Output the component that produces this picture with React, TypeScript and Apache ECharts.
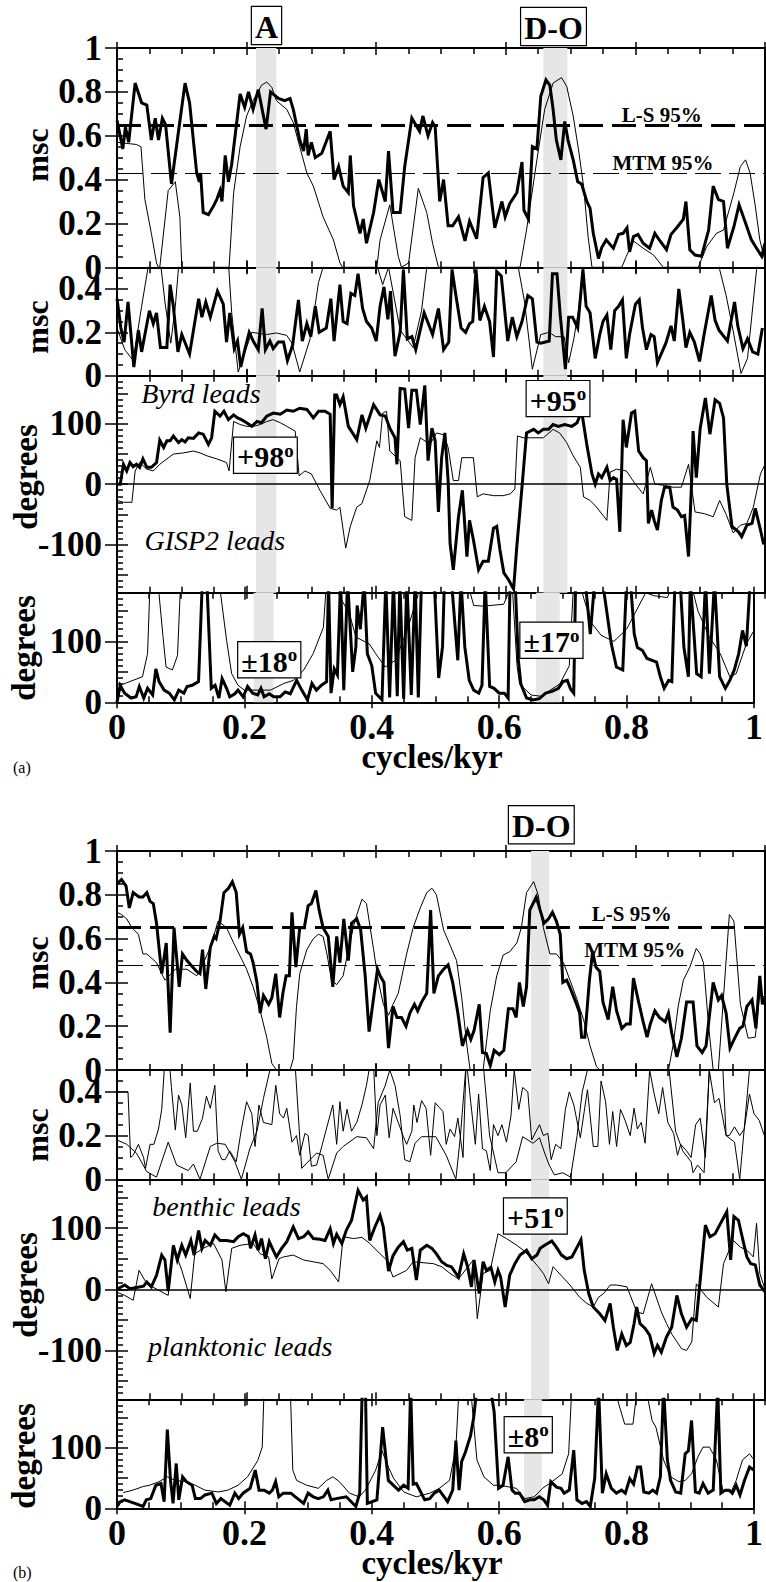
import React, { useEffect, useRef } from "react";
import * as echarts from "echarts";

type Pt = [number, number];

const FONT = "Liberation Serif, Times New Roman, DejaVu Serif, serif";

// ---------- (a) Byrd / GISP2 ----------
const A_MSC_LS: Pt[] = [[0,0.67],[0.009,0.54],[0.013,0.64],[0.018,0.57],[0.028,0.84],[0.038,0.75],[0.046,0.74],[0.053,0.58],[0.059,0.68],[0.064,0.58],[0.07,0.68],[0.075,0.65],[0.084,0.38],[0.094,0.6],[0.105,0.84],[0.112,0.75],[0.123,0.43],[0.127,0.39],[0.129,0.43],[0.133,0.25],[0.141,0.24],[0.149,0.28],[0.154,0.31],[0.159,0.35],[0.162,0.3],[0.167,0.51],[0.172,0.39],[0.177,0.47],[0.19,0.79],[0.197,0.73],[0.203,0.8],[0.21,0.72],[0.218,0.81],[0.224,0.72],[0.23,0.63],[0.237,0.8],[0.249,0.77],[0.259,0.76],[0.267,0.77],[0.272,0.72],[0.277,0.65],[0.282,0.58],[0.288,0.53],[0.292,0.63],[0.295,0.51],[0.3,0.57],[0.306,0.5],[0.316,0.52],[0.329,0.62],[0.335,0.4],[0.342,0.46],[0.349,0.37],[0.357,0.34],[0.36,0.51],[0.365,0.28],[0.375,0.155],[0.38,0.22],[0.385,0.11],[0.396,0.25],[0.404,0.4],[0.414,0.3],[0.419,0.53],[0.426,0.25],[0.437,0.25],[0.444,0.46],[0.455,0.68],[0.467,0.62],[0.472,0.69],[0.48,0.6],[0.487,0.66],[0.491,0.64],[0.498,0.3],[0.504,0.4],[0.511,0.19],[0.518,0.19],[0.527,0.23],[0.537,0.12],[0.544,0.21],[0.555,0.13],[0.565,0.41],[0.573,0.43],[0.583,0.18],[0.594,0.3],[0.599,0.23],[0.606,0.29],[0.617,0.34],[0.625,0.48],[0.628,0.26],[0.635,0.22],[0.641,0.55],[0.648,0.54],[0.654,0.78],[0.662,0.855],[0.668,0.83],[0.673,0.72],[0.678,0.58],[0.685,0.49],[0.691,0.665],[0.696,0.58],[0.704,0.49],[0.711,0.39],[0.717,0.38],[0.725,0.3],[0.73,0.27],[0.735,0.155],[0.743,0.04],[0.748,0.09],[0.755,0.125],[0.762,0.1],[0.766,0.087],[0.774,0.15],[0.781,0.155],[0.787,0.18],[0.791,0.07],[0.797,0.14],[0.804,0.15],[0.812,0.11],[0.822,0.087],[0.83,0.155],[0.838,0.12],[0.848,0.08],[0.855,0.15],[0.865,0.185],[0.874,0.22],[0.878,0.3],[0.884,0.08],[0.892,0.056],[0.902,0.05],[0.913,0.17],[0.92,0.37],[0.928,0.31],[0.936,0.3],[0.942,0.087],[0.952,0.185],[0.96,0.285],[0.969,0.21],[0.979,0.125],[0.987,0.087],[0.995,0.05],[1,0.11]];
const A_MSC_MTM: Pt[] = [[0,0.57],[0.03,0.56],[0.037,0.55],[0.043,0.31],[0.053,0.155],[0.061,0.02],[0.064,0],[0.066,0],[0.079,0.35],[0.09,0.39],[0.097,0.23],[0.1,0],[0.173,0],[0.18,0.34],[0.19,0.55],[0.2,0.69],[0.21,0.76],[0.223,0.83],[0.231,0.845],[0.239,0.82],[0.246,0.76],[0.262,0.72],[0.272,0.66],[0.282,0.55],[0.293,0.43],[0.303,0.37],[0.318,0.23],[0.334,0.125],[0.344,0.02],[0.348,0],[0.401,0],[0.406,0.125],[0.421,0.285],[0.434,0.05],[0.439,0],[0.45,0.02],[0.465,0.36],[0.478,0.25],[0.487,0.11],[0.496,0],[0.622,0],[0.632,0.17],[0.648,0.49],[0.66,0.72],[0.673,0.84],[0.686,0.865],[0.694,0.825],[0.704,0.69],[0.712,0.54],[0.72,0.37],[0.727,0.14],[0.733,0],[0.779,0],[0.786,0.05],[0.797,0.12],[0.812,0.087],[0.828,0.056],[0.843,0],[0.897,0],[0.91,0.094],[0.925,0.155],[0.936,0.17],[0.952,0.34],[0.962,0.46],[0.97,0.49],[0.977,0.43],[0.985,0.28],[0.992,0.125],[1,0.03]];
const A_MSC2_LS: Pt[] = [[0,0.355],[0.006,0.22],[0.011,0.155],[0.017,0.34],[0.026,0.04],[0.033,0.21],[0.038,0.11],[0.05,0.3],[0.056,0.24],[0.061,0.29],[0.067,0.13],[0.077,0.13],[0.082,0.42],[0.087,0.32],[0.094,0.11],[0.1,0.19],[0.112,0.1],[0.126,0.355],[0.131,0.27],[0.137,0.34],[0.144,0.27],[0.155,0.39],[0.164,0.33],[0.169,0.155],[0.174,0.29],[0.181,0.125],[0.186,0.16],[0.191,0.04],[0.198,0.13],[0.204,0.2],[0.211,0.155],[0.218,0.12],[0.224,0.31],[0.229,0.12],[0.236,0.16],[0.241,0.125],[0.249,0.155],[0.257,0.155],[0.263,0.07],[0.271,0.14],[0.28,0.35],[0.286,0.16],[0.293,0.24],[0.299,0.18],[0.306,0.32],[0.312,0.2],[0.323,0.22],[0.33,0.355],[0.335,0.16],[0.344,0.42],[0.349,0.25],[0.355,0.24],[0.361,0.38],[0.367,0.37],[0.372,0.47],[0.379,0.31],[0.385,0.25],[0.393,0.22],[0.4,0.16],[0.406,0.32],[0.412,0.41],[0.418,0.26],[0.422,0.39],[0.429,0.09],[0.437,0.2],[0.442,0.49],[0.448,0.17],[0.455,0.18],[0.461,0.12],[0.474,0.29],[0.487,0.19],[0.496,0.31],[0.504,0.12],[0.512,0.155],[0.517,0.49],[0.523,0.37],[0.531,0.22],[0.538,0.2],[0.544,0.24],[0.549,0.25],[0.554,0.49],[0.56,0.255],[0.567,0.32],[0.575,0.25],[0.581,0.086],[0.586,0.48],[0.593,0.46],[0.603,0.16],[0.61,0.27],[0.617,0.18],[0.625,0.25],[0.634,0.37],[0.641,0.355],[0.648,0.155],[0.654,0.15],[0.667,0.16],[0.672,0.47],[0.679,0.47],[0.684,0.28],[0.692,0.03],[0.697,0.27],[0.703,0.27],[0.711,0.22],[0.719,0.49],[0.724,0.32],[0.73,0.29],[0.738,0.08],[0.745,0.19],[0.75,0.25],[0.756,0.28],[0.762,0.12],[0.768,0.3],[0.774,0.32],[0.78,0.35],[0.786,0.08],[0.791,0.19],[0.8,0.33],[0.806,0.35],[0.811,0.22],[0.817,0.12],[0.824,0.19],[0.829,0.18],[0.834,0.06],[0.847,0.15],[0.855,0.23],[0.86,0.16],[0.867,0.4],[0.873,0.26],[0.878,0.13],[0.884,0.2],[0.891,0.155],[0.899,0.066],[0.906,0.19],[0.917,0.37],[0.923,0.255],[0.929,0.21],[0.942,0.16],[0.953,0.34],[0.958,0.23],[0.966,0.125],[0.973,0.17],[0.981,0.11],[0.989,0.1],[0.996,0.22]];
const A_MSC2_MTM: Pt[] = [[0,0.22],[0.012,0.12],[0.025,0.07],[0.038,0.32],[0.048,0.5],[0.055,0.7],[0.062,0.7],[0.066,0.55],[0.074,0.34],[0.083,0.15],[0.09,0.32],[0.095,0.5],[0.1,0.7],[0.165,0.7],[0.172,0.52],[0.177,0.29],[0.187,0.017],[0.208,0.2],[0.231,0.19],[0.246,0.197],[0.262,0.186],[0.27,0.15],[0.282,0.017],[0.298,0.17],[0.311,0.43],[0.318,0.5],[0.33,0.7],[0.39,0.7],[0.401,0.51],[0.41,0.42],[0.419,0.5],[0.437,0.21],[0.457,0.13],[0.47,0.3],[0.478,0.5],[0.49,0.7],[0.61,0.7],[0.618,0.52],[0.629,0.34],[0.641,0.03],[0.654,0.19],[0.667,0.2],[0.677,0.18],[0.69,0.18],[0.697,0.06],[0.705,0.17],[0.712,0.3],[0.72,0.49],[0.73,0.7],[0.92,0.7],[0.93,0.49],[0.94,0.37],[0.95,0.22],[0.963,0.01],[0.973,0.08],[0.987,0.49],[1,0.7]];
const A_PHASE_LS: Pt[] = [[0,0],[0.005,0],[0.01,33],[0.015,22],[0.02,36],[0.025,29],[0.03,33],[0.035,28],[0.04,42],[0.046,28],[0.053,28],[0.061,36],[0.066,73],[0.072,61],[0.077,72],[0.082,72],[0.087,80],[0.095,69],[0.1,74],[0.105,70],[0.11,77],[0.118,76],[0.126,85],[0.133,83],[0.141,66],[0.146,77],[0.151,121],[0.159,113],[0.165,121],[0.172,107],[0.18,115],[0.186,110],[0.192,107],[0.2,102],[0.208,96],[0.216,104],[0.223,102],[0.231,113],[0.241,118],[0.252,116],[0.262,123],[0.272,121],[0.282,126],[0.293,124],[0.303,110],[0.311,121],[0.321,121],[0.329,116],[0.332,-40],[0.336,148],[0.339,148],[0.344,132],[0.349,145],[0.357,96],[0.37,74],[0.378,115],[0.384,93],[0.396,132],[0.406,115],[0.414,113],[0.421,93],[0.429,77],[0.432,33],[0.437,159],[0.444,158],[0.45,93],[0.455,156],[0.462,156],[0.468,99],[0.475,164],[0.48,39],[0.486,93],[0.491,72],[0.496,-46],[0.501,44],[0.506,85],[0.511,6],[0.514,-98],[0.519,-142],[0.527,-54],[0.533,-10],[0.54,-120],[0.544,-60],[0.55,-92],[0.558,-142],[0.565,-128],[0.573,-128],[0.581,-73],[0.586,-70],[0.591,-109],[0.597,-147],[0.604,-158],[0.612,-174],[0.617,-103],[0.625,-5],[0.632,85],[0.643,91],[0.65,85],[0.658,91],[0.666,91],[0.673,99],[0.681,96],[0.691,99],[0.702,96],[0.71,102],[0.717,121],[0.725,66],[0.733,17],[0.738,0],[0.743,17],[0.748,11],[0.756,28],[0.761,6],[0.766,11],[0.771,8],[0.776,-79],[0.781,107],[0.786,61],[0.794,118],[0.799,121],[0.805,55],[0.812,44],[0.817,39],[0.82,-65],[0.825,-43],[0.829,-60],[0.834,-76],[0.84,-27],[0.845,-5],[0.853,-5],[0.858,-38],[0.865,-43],[0.871,-54],[0.876,-52],[0.882,-120],[0.887,11],[0.889,88],[0.894,11],[0.9,93],[0.908,143],[0.915,83],[0.923,140],[0.93,134],[0.936,110],[0.941,0],[0.949,-70],[0.959,-79],[0.964,-87],[0.972,-68],[0.98,-65],[0.985,-40],[0.993,-76],[0.998,-100]];
const A_PHASE_MTM: Pt[] = [[0,-27],[0.01,-30],[0.023,-30],[0.028,22],[0.035,36],[0.046,25],[0.056,22],[0.066,33],[0.077,42],[0.087,50],[0.103,52],[0.118,55],[0.128,52],[0.139,47],[0.154,42],[0.169,36],[0.173,22],[0.18,104],[0.19,99],[0.2,96],[0.211,96],[0.221,99],[0.231,104],[0.241,107],[0.252,102],[0.262,96],[0.275,88],[0.281,14],[0.29,22],[0.3,17],[0.313,-10],[0.329,-40],[0.339,-43],[0.344,-38],[0.353,-106],[0.36,-70],[0.37,-38],[0.378,-32],[0.39,6],[0.401,72],[0.405,61],[0.41,118],[0.416,121],[0.421,55],[0.437,39],[0.444,-54],[0.455,-60],[0.46,44],[0.468,77],[0.483,66],[0.493,85],[0.504,82],[0.511,61],[0.519,6],[0.527,6],[0.532,44],[0.55,44],[0.556,-21],[0.565,-16],[0.581,-19],[0.596,-19],[0.607,-16],[0.614,-8],[0.618,80],[0.627,77],[0.658,77],[0.673,91],[0.683,85],[0.694,69],[0.704,47],[0.715,28],[0.72,-21],[0.73,-27],[0.74,-38],[0.756,-60],[0.761,20],[0.771,25],[0.786,22],[0.8,0],[0.812,-16],[0.823,28],[0.83,0],[0.845,-2],[0.858,-5],[0.871,-5],[0.882,33],[0.892,-46],[0.907,-49],[0.92,-54],[0.93,-27],[0.94,-50],[0.951,-81],[0.962,-68],[0.972,-65],[0.982,-38],[0.993,17],[1,33]];
const A_ERR_LS: Pt[] = [[0,0],[0.005,28],[0.012,15],[0.022,7],[0.03,9],[0.035,26],[0.042,7],[0.048,23],[0.056,12],[0.061,55],[0.066,34],[0.074,20],[0.082,15],[0.09,4],[0.097,20],[0.105,15],[0.11,26],[0.118,28],[0.128,34],[0.134,200],[0.141,200],[0.148,23],[0.154,28],[0.16,7],[0.165,39],[0.172,23],[0.177,9],[0.185,14],[0.19,20],[0.198,9],[0.205,26],[0.213,15],[0.221,12],[0.226,23],[0.231,9],[0.239,14],[0.246,9],[0.256,9],[0.264,17],[0.272,14],[0.282,36],[0.29,20],[0.299,4],[0.306,31],[0.313,20],[0.321,28],[0.329,34],[0.332,200],[0.336,15],[0.341,55],[0.346,45],[0.351,200],[0.356,20],[0.362,200],[0.37,50],[0.375,91],[0.377,159],[0.382,120],[0.388,200],[0.393,80],[0.4,60],[0.406,15],[0.416,4],[0.422,200],[0.428,8],[0.434,200],[0.44,10],[0.444,200],[0.45,6],[0.455,200],[0.462,12],[0.468,200],[0.473,8],[0.478,200],[0.498,200],[0.505,40],[0.511,91],[0.514,200],[0.525,200],[0.535,69],[0.54,200],[0.546,91],[0.553,36],[0.56,20],[0.568,15],[0.573,28],[0.578,200],[0.585,26],[0.592,23],[0.6,15],[0.608,15],[0.614,7],[0.617,200],[0.625,200],[0.63,70],[0.634,30],[0.643,7],[0.653,4],[0.663,6],[0.673,15],[0.683,18],[0.693,23],[0.7,34],[0.707,36],[0.712,22],[0.717,15],[0.72,200],[0.735,200],[0.743,112],[0.75,200],[0.762,200],[0.776,96],[0.784,58],[0.794,53],[0.8,200],[0.806,200],[0.812,112],[0.817,90],[0.825,85],[0.832,72],[0.84,69],[0.847,66],[0.853,42],[0.859,23],[0.866,36],[0.871,34],[0.876,200],[0.884,200],[0.89,90],[0.897,42],[0.9,200],[0.91,47],[0.917,42],[0.924,200],[0.93,47],[0.938,200],[0.946,42],[0.955,23],[0.962,36],[0.969,53],[0.976,80],[0.982,118],[0.988,92],[0.994,200],[1,200]];
const A_ERR_MTM: Pt[] = [[0.005,28],[0.025,36],[0.04,42],[0.048,80],[0.052,200],[0.064,200],[0.072,110],[0.077,58],[0.087,53],[0.095,77],[0.1,200],[0.16,200],[0.172,102],[0.18,47],[0.19,28],[0.2,20],[0.22,20],[0.241,20],[0.262,31],[0.277,36],[0.293,53],[0.308,80],[0.324,123],[0.329,200],[0.345,200],[0.349,175],[0.365,145],[0.375,107],[0.396,96],[0.406,80],[0.421,58],[0.437,69],[0.457,123],[0.473,178],[0.48,200],[0.55,200],[0.555,178],[0.56,159],[0.575,158],[0.607,161],[0.614,178],[0.62,200],[0.628,60],[0.632,30],[0.65,12],[0.665,10],[0.68,20],[0.695,30],[0.71,60],[0.717,200],[0.725,200],[0.733,170],[0.745,130],[0.76,110],[0.78,100],[0.8,120],[0.815,150],[0.83,180],[0.843,175],[0.864,172],[0.875,200],[0.9,200],[0.912,150],[0.93,107],[0.947,80],[0.962,42],[0.972,47],[0.988,96],[1,118]];

// ---------- (b) benthic / planktonic ----------
const B_MSC_LS: Pt[] = [[0,0.85],[0.007,0.87],[0.014,0.84],[0.019,0.74],[0.025,0.81],[0.034,0.79],[0.04,0.79],[0.046,0.81],[0.051,0.77],[0.056,0.76],[0.061,0.67],[0.069,0.44],[0.076,0.58],[0.082,0.17],[0.088,0.65],[0.096,0.38],[0.101,0.53],[0.108,0.5],[0.114,0.48],[0.123,0.45],[0.128,0.44],[0.132,0.55],[0.137,0.37],[0.144,0.56],[0.15,0.61],[0.153,0.6],[0.159,0.68],[0.165,0.81],[0.172,0.83],[0.178,0.86],[0.184,0.81],[0.189,0.62],[0.194,0.65],[0.2,0.54],[0.206,0.53],[0.21,0.49],[0.216,0.4],[0.221,0.26],[0.226,0.34],[0.234,0.3],[0.239,0.33],[0.245,0.44],[0.251,0.24],[0.256,0.35],[0.261,0.43],[0.266,0.43],[0.27,0.72],[0.276,0.47],[0.282,0.65],[0.289,0.65],[0.295,0.75],[0.3,0.76],[0.307,0.82],[0.312,0.73],[0.318,0.65],[0.326,0.61],[0.333,0.38],[0.339,0.61],[0.344,0.49],[0.35,0.69],[0.357,0.5],[0.362,0.67],[0.37,0.69],[0.376,0.64],[0.383,0.43],[0.389,0.175],[0.396,0.33],[0.402,0.46],[0.406,0.43],[0.412,0.4],[0.419,0.1],[0.426,0.29],[0.432,0.24],[0.439,0.24],[0.446,0.2],[0.452,0.26],[0.459,0.3],[0.464,0.27],[0.47,0.31],[0.478,0.35],[0.484,0.73],[0.489,0.35],[0.496,0.43],[0.504,0.46],[0.511,0.48],[0.518,0.4],[0.526,0.26],[0.533,0.11],[0.541,0.18],[0.546,0.14],[0.551,0.18],[0.559,0.3],[0.564,0.08],[0.57,0.075],[0.576,0.02],[0.582,0.09],[0.59,0.07],[0.597,0.09],[0.604,0.28],[0.611,0.28],[0.616,0.24],[0.621,0.4],[0.627,0.29],[0.632,0.38],[0.637,0.73],[0.647,0.79],[0.653,0.73],[0.659,0.67],[0.666,0.69],[0.672,0.72],[0.678,0.68],[0.684,0.62],[0.688,0.4],[0.694,0.41],[0.7,0.37],[0.708,0.31],[0.714,0.26],[0.717,0.15],[0.722,0.15],[0.729,0.41],[0.734,0.54],[0.739,0.47],[0.745,0.45],[0.75,0.31],[0.758,0.23],[0.765,0.38],[0.771,0.27],[0.779,0.19],[0.786,0.21],[0.792,0.21],[0.797,0.42],[0.805,0.31],[0.812,0.22],[0.818,0.15],[0.823,0.21],[0.83,0.27],[0.837,0.24],[0.846,0.22],[0.851,0.26],[0.856,0.17],[0.864,0.06],[0.871,0.145],[0.879,0.31],[0.889,0.31],[0.895,0.11],[0.903,0.08],[0.909,0.11],[0.92,0.4],[0.928,0.32],[0.933,0.34],[0.94,0.26],[0.946,0.1],[0.954,0.15],[0.961,0.19],[0.966,0.2],[0.972,0.29],[0.98,0.32],[0.986,0.19],[0.992,0.43],[0.996,0.3],[1,0.33]];
const B_MSC_MTM: Pt[] = [[0,0.72],[0.007,0.71],[0.015,0.69],[0.023,0.65],[0.033,0.62],[0.04,0.53],[0.046,0.53],[0.061,0.49],[0.069,0.44],[0.074,0.41],[0.09,0.46],[0.108,0.46],[0.123,0.43],[0.135,0.5],[0.144,0.56],[0.156,0.68],[0.169,0.65],[0.18,0.58],[0.19,0.52],[0.2,0.46],[0.21,0.38],[0.221,0.27],[0.231,0.15],[0.239,0.03],[0.246,0],[0.267,0],[0.272,0.05],[0.277,0.29],[0.282,0.44],[0.293,0.55],[0.303,0.6],[0.311,0.62],[0.318,0.61],[0.324,0.53],[0.331,0.41],[0.339,0.39],[0.349,0.43],[0.357,0.55],[0.367,0.68],[0.378,0.78],[0.385,0.76],[0.396,0.55],[0.403,0.41],[0.411,0.3],[0.419,0.25],[0.426,0.3],[0.434,0.35],[0.447,0.53],[0.457,0.65],[0.468,0.74],[0.478,0.81],[0.486,0.83],[0.493,0.8],[0.504,0.64],[0.514,0.57],[0.524,0.5],[0.532,0.33],[0.54,0.11],[0.545,0],[0.565,0],[0.576,0.27],[0.586,0.43],[0.596,0.525],[0.606,0.54],[0.617,0.58],[0.624,0.65],[0.632,0.81],[0.643,0.86],[0.65,0.8],[0.658,0.65],[0.668,0.53],[0.678,0.53],[0.689,0.49],[0.699,0.41],[0.709,0.33],[0.72,0.23],[0.73,0.11],[0.74,0.015],[0.745,0],[0.851,0],[0.858,0.11],[0.866,0.29],[0.874,0.41],[0.884,0.47],[0.894,0.555],[0.9,0.53],[0.905,0.49],[0.913,0.2],[0.92,0],[0.928,0],[0.945,0.71],[0.952,0.68],[0.962,0.3],[0.974,0.145],[0.985,0.15],[0.992,0.35],[1,0.33]];
const B_MSC2_J: Pt[] = [[0,0.4],[0.017,0.4],[0.021,0.1],[0.025,0.11],[0.033,0.16],[0.041,0.1],[0.044,0.05],[0.051,0.16],[0.057,0.16],[0.064,0.23],[0.069,0.32],[0.074,0.55],[0.079,0.6],[0.084,0.42],[0.09,0.225],[0.095,0.385],[0.1,0.34],[0.106,0.19],[0.113,0.44],[0.118,0.22],[0.124,0.22],[0.132,0.28],[0.138,0.38],[0.144,0.325],[0.151,0.43],[0.156,0.13],[0.162,0.09],[0.167,0.09],[0.174,0.13],[0.184,0.08],[0.192,0.23],[0.2,0.355],[0.208,0.3],[0.213,0.15],[0.219,0.34],[0.226,0.26],[0.239,0.25],[0.245,0.43],[0.251,0.3],[0.257,0.28],[0.262,0.325],[0.27,0.17],[0.277,0.2],[0.282,0.11],[0.29,0.21],[0.295,0.2],[0.3,0.06],[0.308,0.065],[0.316,0.15],[0.324,0.24],[0.333,0.34],[0.339,0.16],[0.344,0.355],[0.349,0.22],[0.355,0.32],[0.362,0.22],[0.37,0.26],[0.378,0.34],[0.385,0.43],[0.389,0.5],[0.396,0.52],[0.401,0.2],[0.406,0.34],[0.414,0.385],[0.42,0.19],[0.426,0.325],[0.434,0.26],[0.442,0.195],[0.447,0.16],[0.455,0.22],[0.458,0.34],[0.463,0.26],[0.47,0.36],[0.477,0.325],[0.484,0.11],[0.491,0.35],[0.497,0.33],[0.503,0.31],[0.508,0.16],[0.514,0.23],[0.521,0.195],[0.526,0.28],[0.534,0.1],[0.539,0.55],[0.546,0.35],[0.553,0.16],[0.558,0.39],[0.564,0.14],[0.57,0.13],[0.576,0.04],[0.581,0.25],[0.588,0.2],[0.594,0.25],[0.601,0.17],[0.608,0.29],[0.613,0.5],[0.62,0.32],[0.626,0.42],[0.634,0.4],[0.64,0.18],[0.652,0.25],[0.658,0.2],[0.665,0.21],[0.67,0.09],[0.677,0.16],[0.685,0.14],[0.692,0.32],[0.698,0.4],[0.705,0.34],[0.715,0.19],[0.726,0.41],[0.735,0.15],[0.742,0.15],[0.747,0.45],[0.754,0.355],[0.76,0.16],[0.765,0.31],[0.771,0.15],[0.777,0.32],[0.784,0.27],[0.792,0.2],[0.798,0.325],[0.803,0.23],[0.809,0.26],[0.815,0.165],[0.822,0.5],[0.829,0.39],[0.836,0.3],[0.842,0.42],[0.85,0.26],[0.859,0.21],[0.865,0.11],[0.87,0.16],[0.879,0.13],[0.886,0.1],[0.893,0.25],[0.9,0.28],[0.908,0.1],[0.914,0.5],[0.922,0.35],[0.929,0.37],[0.94,0.2],[0.945,0.2],[0.953,0.24],[0.961,0.2],[0.968,0.23],[0.976,0.39],[0.983,0.3],[0.991,0.27],[0.999,0.2]];
const B_MSC2_S: Pt[] = [[0,0.18],[0.015,0.16],[0.03,0.12],[0.046,0.035],[0.061,0.01],[0.079,0.17],[0.092,0.065],[0.11,0.04],[0.118,0.07],[0.128,0],[0.144,0.15],[0.154,0.165],[0.167,0.16],[0.182,0.08],[0.192,0],[0.205,0.14],[0.216,0.22],[0.226,0.37],[0.236,0.5],[0.246,0.7],[0.267,0.7],[0.275,0.52],[0.285,0.05],[0.298,0.09],[0.308,0.12],[0.318,0.11],[0.326,0],[0.339,0.12],[0.349,0.15],[0.37,0.195],[0.385,0.19],[0.396,0.14],[0.403,0.35],[0.414,0.43],[0.421,0.5],[0.429,0.43],[0.437,0.29],[0.444,0.09],[0.452,0.08],[0.46,0.165],[0.47,0.195],[0.492,0.195],[0.508,0.11],[0.523,0],[0.53,0.2],[0.538,0.5],[0.55,0.8],[0.566,0.5],[0.575,0.2],[0.588,0.03],[0.6,0.03],[0.616,0.08],[0.626,0.195],[0.642,0.165],[0.652,0.19],[0.66,0.12],[0.667,0.065],[0.675,0.02],[0.688,0.03],[0.7,0.01],[0.71,0.2],[0.718,0.4],[0.726,0.5],[0.74,0.8],[0.83,0.8],[0.852,0.5],[0.862,0.22],[0.873,0.13],[0.886,0.08],[0.889,0.03],[0.896,0.065],[0.906,0.03],[0.914,0.5],[0.925,0.8],[0.935,0.5],[0.94,0.2],[0.953,0.17],[0.961,0],[0.976,0.5],[0.99,0.6],[1,0.5]];
const B_PHASE_LS: Pt[] = [[0,0],[0.012,7],[0.02,1],[0.03,3],[0.041,5],[0.046,12],[0.053,4],[0.061,23],[0.069,56],[0.074,48],[0.079,-3],[0.087,72],[0.093,48],[0.1,72],[0.106,56],[0.114,80],[0.119,56],[0.126,96],[0.131,67],[0.136,80],[0.144,72],[0.151,89],[0.159,80],[0.169,80],[0.18,78],[0.187,86],[0.195,91],[0.203,86],[0.206,67],[0.213,89],[0.218,64],[0.223,83],[0.229,50],[0.235,78],[0.241,64],[0.246,53],[0.254,67],[0.262,78],[0.272,102],[0.28,83],[0.288,86],[0.295,94],[0.303,83],[0.313,82],[0.321,80],[0.329,99],[0.334,75],[0.339,90],[0.347,75],[0.354,97],[0.362,113],[0.372,162],[0.38,146],[0.385,151],[0.39,80],[0.398,102],[0.406,121],[0.411,102],[0.419,30],[0.426,55],[0.434,69],[0.442,78],[0.448,64],[0.455,67],[0.462,15],[0.468,64],[0.478,72],[0.486,67],[0.493,58],[0.501,45],[0.509,39],[0.516,37],[0.527,20],[0.535,58],[0.541,37],[0.547,4],[0.551,48],[0.559,-7],[0.565,45],[0.57,31],[0.577,36],[0.583,12],[0.588,31],[0.592,20],[0.599,-29],[0.606,23],[0.614,42],[0.622,56],[0.632,64],[0.64,50],[0.648,56],[0.653,67],[0.66,72],[0.671,79],[0.678,69],[0.686,56],[0.694,50],[0.702,53],[0.709,67],[0.716,81],[0.721,31],[0.728,-7],[0.735,-29],[0.745,-40],[0.753,-51],[0.761,-23],[0.766,-62],[0.772,-100],[0.779,-73],[0.786,-92],[0.792,-87],[0.798,-56],[0.802,-29],[0.807,-56],[0.815,-64],[0.822,-75],[0.829,-105],[0.834,-92],[0.84,-103],[0.848,-78],[0.856,-62],[0.864,-10],[0.871,-40],[0.879,-62],[0.887,-48],[0.894,-51],[0.9,15],[0.908,105],[0.915,86],[0.923,91],[0.93,105],[0.941,127],[0.947,48],[0.952,119],[0.959,113],[0.966,80],[0.972,53],[0.978,42],[0.985,40],[0.992,7],[1,-4]];
const B_PHASE_MTM: Pt[] = [[0,-5],[0.012,-10],[0.025,-18],[0.034,31],[0.046,9],[0.079,-10],[0.087,69],[0.1,31],[0.113,-15],[0.12,58],[0.133,67],[0.149,75],[0.162,48],[0.168,-4],[0.177,67],[0.19,72],[0.21,75],[0.221,58],[0.234,53],[0.239,17],[0.25,50],[0.257,53],[0.272,56],[0.288,48],[0.303,45],[0.318,42],[0.329,31],[0.342,12],[0.349,86],[0.365,83],[0.378,85],[0.39,75],[0.406,58],[0.416,48],[0.426,20],[0.447,31],[0.457,45],[0.488,42],[0.501,37],[0.514,26],[0.527,17],[0.55,48],[0.556,-48],[0.565,26],[0.576,31],[0.588,91],[0.601,83],[0.617,72],[0.627,64],[0.637,53],[0.65,37],[0.658,26],[0.666,9],[0.673,37],[0.699,7],[0.714,-13],[0.725,-23],[0.735,-29],[0.743,-13],[0.751,-7],[0.761,7],[0.771,7],[0.787,4],[0.802,-37],[0.812,-40],[0.825,9],[0.84,-37],[0.848,-56],[0.856,-73],[0.871,-97],[0.879,-100],[0.887,-86],[0.894,9],[0.91,-13],[0.928,-29],[0.936,42],[0.951,80],[0.962,69],[0.972,64],[0.982,53],[0.987,108],[0.992,26],[1,0]];
const B_ERR_LS: Pt[] = [[0,3],[0.005,11],[0.012,14],[0.02,11],[0.028,8],[0.041,3],[0.046,14],[0.053,16],[0.061,38],[0.069,41],[0.074,11],[0.079,130],[0.084,46],[0.088,8],[0.093,74],[0.097,14],[0.103,52],[0.109,44],[0.118,38],[0.123,16],[0.131,16],[0.138,22],[0.149,25],[0.156,8],[0.163,16],[0.177,5],[0.185,25],[0.191,16],[0.198,25],[0.209,33],[0.217,63],[0.223,30],[0.231,30],[0.239,25],[0.244,30],[0.249,44],[0.254,19],[0.261,25],[0.273,25],[0.28,19],[0.293,8],[0.3,25],[0.308,19],[0.316,16],[0.324,19],[0.331,30],[0.336,14],[0.344,16],[0.36,19],[0.375,3],[0.381,25],[0.385,200],[0.39,200],[0.393,8],[0.408,14],[0.417,134],[0.426,46],[0.434,38],[0.442,30],[0.45,38],[0.457,33],[0.461,200],[0.465,40],[0.47,41],[0.483,14],[0.491,16],[0.498,25],[0.506,30],[0.519,11],[0.527,30],[0.532,112],[0.537,30],[0.541,77],[0.547,93],[0.555,120],[0.56,150],[0.565,200],[0.586,200],[0.592,160],[0.599,33],[0.606,38],[0.614,85],[0.62,30],[0.625,25],[0.632,25],[0.64,11],[0.648,14],[0.655,14],[0.663,19],[0.67,14],[0.676,5],[0.681,44],[0.69,35],[0.697,33],[0.702,25],[0.71,30],[0.717,96],[0.722,14],[0.73,8],[0.737,11],[0.743,3],[0.75,50],[0.756,200],[0.762,25],[0.768,57],[0.776,33],[0.784,25],[0.792,30],[0.798,25],[0.805,49],[0.811,40],[0.817,68],[0.822,68],[0.827,27],[0.835,25],[0.841,30],[0.847,25],[0.853,52],[0.858,200],[0.864,80],[0.869,46],[0.877,27],[0.885,25],[0.892,90],[0.897,95],[0.902,145],[0.908,27],[0.914,25],[0.92,41],[0.928,25],[0.936,30],[0.943,200],[0.948,25],[0.955,30],[0.961,30],[0.966,25],[0.972,38],[0.978,22],[0.985,46],[0.993,68],[1,63]];
const B_ERR_MTM: Pt[] = [[0.01,26],[0.025,30],[0.041,36],[0.051,38],[0.066,44],[0.079,52],[0.092,46],[0.108,44],[0.123,38],[0.138,30],[0.159,27],[0.174,30],[0.19,38],[0.205,52],[0.221,79],[0.228,101],[0.231,200],[0.272,200],[0.276,63],[0.282,46],[0.298,38],[0.316,33],[0.329,46],[0.339,52],[0.349,44],[0.365,25],[0.38,19],[0.39,30],[0.406,63],[0.416,95],[0.426,68],[0.434,50],[0.45,27],[0.47,19],[0.491,25],[0.506,33],[0.522,46],[0.532,100],[0.537,200],[0.555,200],[0.565,80],[0.576,52],[0.591,38],[0.601,38],[0.627,33],[0.64,16],[0.655,19],[0.668,33],[0.683,44],[0.699,57],[0.709,90],[0.714,200],[0.78,200],[0.797,139],[0.81,139],[0.817,200],[0.83,200],[0.84,145],[0.846,134],[0.858,80],[0.869,52],[0.882,44],[0.892,46],[0.902,57],[0.912,85],[0.92,101],[0.93,101],[0.941,80],[0.951,30],[0.964,27],[0.972,46],[0.982,80],[0.993,90],[1,80]];

// significance levels of the squared coherence
const A_LEVELS = { ls: 0.654, mtm: 0.43 };
const B_LEVELS = { ls: 0.654, mtm: 0.476 };

// shaded frequency bands
const A_BANDS: Pt[] = [[0.2145, 0.246], [0.658, 0.695]];
const B_BANDS: Pt[] = [[0.639, 0.667]];

const X_LABELS = [0, 0.2, 0.4, 0.6, 0.8, 1];
const X_MINOR = [0.05, 0.1, 0.15, 0.25, 0.3, 0.35, 0.45, 0.5, 0.55, 0.65, 0.7, 0.75, 0.85, 0.9, 0.95];

const Y_KINDS: Record<string, { min: number; max: number; labels: number[]; major: number[]; step: number }> = {
  msc: { min: 0, max: 1, labels: [0, 0.2, 0.4, 0.6, 0.8, 1], major: [], step: 0.05 },
  msc2: { min: 0, max: 0.5, labels: [0, 0.2, 0.4], major: [], step: 0.05 },
  phase: { min: -180, max: 180, labels: [-100, 0, 100], major: [-150, -50, 50, 150], step: 10 },
  err: { min: 0, max: 180, labels: [0, 100], major: [50, 150], step: 10 },
};

function minorTicks(min: number, max: number, step: number, skip: number[]): number[] {
  const out: number[] = [];
  const n = Math.round((max - min) / step);
  for (let i = 0; i <= n; i++) {
    const v = +(min + i * step).toFixed(4);
    if (!skip.some((s) => Math.abs(s - v) < 1e-6)) out.push(v);
  }
  return out;
}

const LINE = { color: "#000", width: 2 };
const TICK = { color: "#000", width: 1.5 };

function buildOption() {
  const panels = [
    { top: 48, height: 219.3, kind: "msc", thick: A_MSC_LS, thin: A_MSC_MTM, bands: A_BANDS, levels: A_LEVELS },
    { top: 267.3, height: 108.4, kind: "msc2", thick: A_MSC2_LS, thin: A_MSC2_MTM, bands: A_BANDS },
    { top: 375.7, height: 217, kind: "phase", thick: A_PHASE_LS, thin: A_PHASE_MTM, bands: A_BANDS },
    { top: 592.7, height: 109.6, kind: "err", thick: A_ERR_LS, thin: A_ERR_MTM, bands: A_BANDS, xlabels: true },
    { top: 851, height: 219, kind: "msc", thick: B_MSC_LS, thin: B_MSC_MTM, bands: B_BANDS, levels: B_LEVELS },
    { top: 1070, height: 109.3, kind: "msc2", thick: null, thin: B_MSC2_J, thin2: B_MSC2_S, bands: B_BANDS },
    { top: 1179.3, height: 220, kind: "phase", thick: B_PHASE_LS, thin: B_PHASE_MTM, bands: B_BANDS },
    { top: 1399.3, height: 109, kind: "err", thick: B_ERR_LS, thin: B_ERR_MTM, bands: B_BANDS, xlabels: true },
  ] as any[];

  const grid: any[] = [];
  const xAxis: any[] = [];
  const yAxis: any[] = [];
  const series: any[] = [];
  const xMain: number[] = [];
  const yMain: number[] = [];

  const labelFont = { color: "#000", fontFamily: FONT, fontWeight: "bold" };

  panels.forEach((p, gi) => {
    grid.push({ left: 117, width: 648, top: p.top, height: p.height, containLabel: false });

    // frame and ticks along x (bottom and top)
    for (const position of ["bottom", "top"]) {
      const base = { gridIndex: gi, type: "value", min: 0, max: 1, position, splitLine: { show: false }, axisLabel: { show: false } };
      if (position === "bottom") xMain[gi] = xAxis.length;
      xAxis.push({
        ...base,
        axisLine: { show: true, onZero: false, lineStyle: LINE },
        axisTick: { show: true, inside: true, length: 7, customValues: X_LABELS, lineStyle: TICK },
        axisLabel:
          position === "bottom" && p.xlabels
            ? { show: true, customValues: X_LABELS, margin: 12, ...labelFont, fontSize: 36, lineHeight: 26, formatter: (v: number) => String(v) }
            : { show: false },
      });
      xAxis.push({ ...base, axisLine: { show: false, onZero: false }, axisTick: { show: true, inside: false, length: 6, customValues: X_LABELS, lineStyle: TICK } });
      xAxis.push({ ...base, axisLine: { show: false, onZero: false }, axisTick: { show: true, inside: true, length: 6, customValues: X_MINOR, lineStyle: TICK } });
    }

    // frame and ticks along y (left), plus right border
    const k = Y_KINDS[p.kind];
    const yb = { gridIndex: gi, type: "value", min: k.min, max: k.max, position: "left", splitLine: { show: false }, axisLabel: { show: false } };
    yMain[gi] = yAxis.length;
    yAxis.push({
      ...yb,
      axisLine: { show: true, onZero: false, lineStyle: LINE },
      axisTick: { show: true, inside: true, length: 11, customValues: k.labels, lineStyle: TICK },
      axisLabel: {
        show: true,
        customValues: k.labels,
        margin: 15,
        ...labelFont,
        fontSize: 35,
        lineHeight: 24,
        formatter: (v: number) => String(v),
      },
    });
    yAxis.push({ ...yb, axisLine: { show: false, onZero: false }, axisTick: { show: true, inside: false, length: 12, customValues: k.labels, lineStyle: TICK } });
    if (k.major.length) {
      yAxis.push({ ...yb, axisLine: { show: false, onZero: false }, axisTick: { show: true, inside: true, length: 11, customValues: k.major, lineStyle: TICK } });
    }
    yAxis.push({
      ...yb,
      axisLine: { show: false, onZero: false },
      axisTick: { show: true, inside: true, length: 6, customValues: minorTicks(k.min, k.max, k.step, [...k.labels, ...k.major]), lineStyle: TICK },
    });
    yAxis.push({ ...yb, position: "right", axisLine: { show: true, onZero: false, lineStyle: LINE }, axisTick: { show: false } });

    const line = (data: Pt[], width: number, extra: any = {}) => ({
      type: "line",
      xAxisIndex: xMain[gi],
      yAxisIndex: yMain[gi],
      data,
      symbol: "none",
      showSymbol: false,
      silent: true,
      clip: true,
      z: width > 2 ? 3 : 2,
      lineStyle: { color: "#000", width, join: "miter", miterLimit: 4 },
      itemStyle: { color: "#000" },
      ...extra,
    });

    series.push(
      line(p.thin, 1, {
        markArea: {
          silent: true,
          itemStyle: { color: "#e6e6e6" },
          data: p.bands.map((b: Pt) => [{ xAxis: b[0] }, { xAxis: b[1] }]),
        },
      })
    );
    if (p.thin2) series.push(line(p.thin2, 1));

    const markLines: any[] = [];
    if (p.levels) {
      markLines.push({ yAxis: p.levels.ls, lineStyle: { color: "#000", width: 3, type: [24, 9] } });
      markLines.push({ yAxis: p.levels.mtm, lineStyle: { color: "#000", width: 1, type: [26, 8] } });
    }
    if (p.kind === "phase") {
      markLines.push({ yAxis: 0, lineStyle: { color: "#000", width: 1.5, type: "solid" } });
    }
    if (p.thick) {
      series.push(
        line(p.thick, 3, markLines.length ? { markLine: { silent: true, symbol: "none", label: { show: false }, data: markLines } } : {})
      );
    } else if (markLines.length) {
      series.push(line([], 1, { markLine: { silent: true, symbol: "none", label: { show: false }, data: markLines } }));
    }
  });

  // text annotations placed in data coordinates of each panel
  const boxLabel = (main: string, sup: string | null, offset: number[] = [0, 0], size = 30) => ({
    show: true,
    position: "inside",
    offset,
    formatter: sup ? `{n|${main}}{o|${sup}}` : `{n|${main}}`,
    backgroundColor: "#fff",
    borderColor: "#000",
    borderWidth: 1.2,
    padding: [3, 3, 0, 3],
    rich: {
      n: { fontFamily: FONT, fontWeight: "bold", fontSize: size, color: "#000", lineHeight: size + 2 },
      o: { fontFamily: FONT, fontWeight: "bold", fontSize: 19, color: "#000", verticalAlign: "top", lineHeight: 20 },
    },
  });
  const plainLabel = (text: string, italic: boolean, size: number) => ({
    show: true,
    position: "inside",
    formatter: text,
    fontFamily: FONT,
    fontStyle: italic ? "italic" : "normal",
    fontWeight: italic ? "normal" : "bold",
    fontSize: size,
    lineHeight: size,
    color: "#000",
  });

  const notes: { grid: number; coord: Pt; label: any }[] = [
    { grid: 0, coord: [0.2307, 1], label: boxLabel("A", null, [0, -22.5], 32) },
    { grid: 0, coord: [0.6736, 1], label: boxLabel("D-O", null, [0, -21.5], 32) },
    { grid: 0, coord: [0.8406, 0.695], label: plainLabel("L-S 95%", false, 21) },
    { grid: 0, coord: [0.8426, 0.476], label: plainLabel("MTM 95%", false, 21) },
    { grid: 2, coord: [0.1296, 151], label: plainLabel("Byrd leads", true, 28) },
    { grid: 2, coord: [0.151, -92.6], label: plainLabel("GISP2 leads", true, 28) },
    { grid: 2, coord: [0.229, 48], label: boxLabel("+98", "o") },
    { grid: 2, coord: [0.6806, 142], label: boxLabel("+95", "o") },
    { grid: 3, coord: [0.239, 70], label: boxLabel("\u00b118", "o") },
    { grid: 3, coord: [0.682, 102], label: boxLabel("\u00b117", "o") },
    { grid: 4, coord: [0.6548, 1], label: boxLabel("D-O", null, [0, -26.3], 32) },
    { grid: 4, coord: [0.7943, 0.712], label: plainLabel("L-S 95%", false, 21) },
    { grid: 4, coord: [0.799, 0.548], label: plainLabel("MTM 95%", false, 21) },
    { grid: 6, coord: [0.169, 134.7], label: plainLabel("benthic leads", true, 28) },
    { grid: 6, coord: [0.19, -94.4], label: plainLabel("planktonic leads", true, 28) },
    { grid: 6, coord: [0.6456, 120], label: boxLabel("+51", "o") },
    { grid: 7, coord: [0.6456, 121.5], label: boxLabel("\u00b18", "o") },
  ];
  panels.forEach((_, gi) => {
    const mine = notes.filter((n) => n.grid === gi);
    if (!mine.length) return;
    series.push({
      type: "line",
      xAxisIndex: xMain[gi],
      yAxisIndex: yMain[gi],
      data: [],
      silent: true,
      markPoint: {
        silent: true,
        symbol: "rect",
        symbolSize: 1,
        itemStyle: { color: "rgba(0,0,0,0)" },
        data: mine.map((n) => ({ coord: n.coord, label: n.label })),
      },
    });
  });

  // axis titles and panel tags
  const vText = (text: string, x: number, y: number, size: number) => ({
    type: "text",
    x,
    y,
    rotation: Math.PI / 2,
    style: {
      text,
      fill: "#000",
      fontFamily: FONT,
      fontWeight: "bold",
      fontSize: size,
      lineHeight: size,
      align: "center",
      verticalAlign: "middle",
    },
  });
  const hText = (text: string, x: number, y: number, size: number, bold: boolean, align = "center") => ({
    type: "text",
    x,
    y,
    style: {
      text,
      fill: "#000",
      fontFamily: FONT,
      fontWeight: bold ? "bold" : "normal",
      fontSize: size,
      lineHeight: size,
      align,
      verticalAlign: "middle",
    },
  });
  const graphic = [
    vText("msc", 37, 155, 32),
    vText("msc", 37, 327, 32),
    vText("degrees", 26, 477, 33),
    vText("degrees", 24, 648, 33),
    vText("msc", 37, 963, 32),
    vText("msc", 37, 1135, 32),
    vText("degrees", 26, 1285, 33),
    vText("degrees", 24, 1456, 33),
    hText("cycles/kyr", 432, 757, 33, true),
    hText("cycles/kyr", 432, 1563, 33, true),
    hText("(a)", 13, 767, 16, false, "left"),
    hText("(b)", 13, 1572, 16, false, "left"),
  ];

  return {
    animation: false,
    backgroundColor: "#fff",
    textStyle: { fontFamily: FONT },
    grid,
    xAxis,
    yAxis,
    series,
    graphic,
  };
}

export default function App() {
  const ref = useRef<HTMLDivElement>(null);
  useEffect(() => {
    if (!ref.current) return;
    const chart = echarts.init(ref.current, null, { renderer: "svg" });
    chart.setOption(buildOption() as any);
    return () => chart.dispose();
  }, []);
  return <div ref={ref} style={{ position: "absolute", left: 0, top: 0, width: 766, height: 1582 }} />;
}
